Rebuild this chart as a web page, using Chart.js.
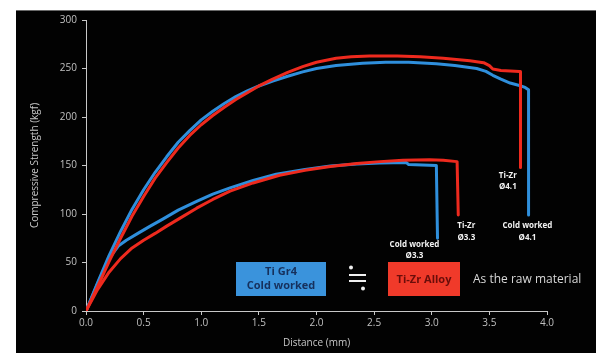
<!DOCTYPE html>
<html>
<head>
<meta charset="utf-8">
<script src="https://cdn.jsdelivr.net/npm/chart.js@4/dist/chart.umd.min.js"></script>
<style>
html,body{margin:0;padding:0;background:#fff;}
#wrap{position:relative;width:613px;height:353px;}
</style>
</head>
<body>
<div id="wrap"><canvas id="c" width="613" height="353"></canvas></div>
<script>
// ---- data (Distance mm, Compressive Strength kgf) ----
const cw41X = [0, 0.1, 0.2, 0.3, 0.4, 0.5, 0.6, 0.7, 0.8, 0.9, 1.0, 1.1, 1.2, 1.3, 1.4, 1.5, 1.62, 1.75, 1.88, 2.0, 2.17, 2.4, 2.6, 2.8, 3.04, 3.2, 3.39, 3.47, 3.53, 3.6, 3.68, 3.76, 3.81, 3.84, 3.84];
const cw41Y = [0, 29, 57, 82, 105, 125, 143, 159, 174, 186, 197, 206, 214, 221, 227, 232, 237, 242, 246.5, 250, 253, 255.5, 256.5, 256.5, 255, 253, 250, 247, 243, 239, 235, 232.5, 230.5, 228, 99];
const tz41X = [0, 0.1, 0.2, 0.3, 0.4, 0.5, 0.6, 0.7, 0.8, 0.9, 1.0, 1.1, 1.2, 1.3, 1.4, 1.5, 1.62, 1.75, 1.88, 2.0, 2.17, 2.3, 2.46, 2.7, 2.9, 3.1, 3.33, 3.45, 3.5, 3.53, 3.6, 3.76, 3.77, 3.77];
const tz41Y = [0, 25, 51, 75, 98, 118, 137, 153, 168, 181, 192, 201.5, 210, 218, 225, 232, 239, 246, 252, 256.5, 260.5, 262, 263, 263, 262, 260.5, 258, 256, 253, 249.5, 248, 247, 247, 148];
const cw33X = [0, 0.1, 0.2, 0.28, 0.35, 0.45, 0.55, 0.67, 0.8, 0.96, 1.1, 1.25, 1.45, 1.65, 1.9, 2.12, 2.35, 2.55, 2.78, 2.8, 3.04, 3.05];
const cw33Y = [0, 28, 54, 67, 73, 80, 87, 95, 104, 113, 120.5, 127, 134.5, 141, 146, 149.5, 151.5, 152.5, 153, 151, 150, 75];
const tz33X = [0, 0.1, 0.2, 0.3, 0.4, 0.5, 0.6, 0.7, 0.82, 0.96, 1.1, 1.25, 1.45, 1.68, 1.9, 2.12, 2.35, 2.55, 2.75, 2.98, 3.1, 3.22, 3.23];
const tz33Y = [0, 22, 40, 54, 65, 73, 80, 87.5, 96, 106, 115, 123.5, 132, 140, 145, 149, 152, 154, 155.5, 156, 155.5, 154, 99];
const xTicks = [0, 0.5, 1.0, 1.5, 2.0, 2.5, 3.0, 3.5, 4.0];
const yTicks = [0, 50, 100, 150, 200, 250, 300];

const BLUE = '#2f8fdc';
const RED = '#ee2a1e';

function pts(xs, ys){ return xs.map((x,i)=>({x:x, y:ys[i]})); }

const bgPlugin = {
  id:'bg',
  beforeDraw(chart){
    const ctx = chart.ctx;
    ctx.save();
    ctx.fillStyle = '#ffffff';
    ctx.fillRect(0,0,chart.width,chart.height);
    ctx.fillStyle = '#020202';
    ctx.fillRect(16,10,580,343);
    ctx.fillStyle = '#6a6a6a';
    ctx.fillRect(16,10,580,1);
    ctx.restore();
  }
};

// text annotations in data units
const notes = [
  {x:2.85, y:68, t:'Cold worked'}, {x:2.85, y:57, t:'Ø3.3'},
  {x:3.30, y:88, t:'Ti-Zr'}, {x:3.30, y:76, t:'Ø3.3'},
  {x:3.66, y:139, t:'Ti-Zr'}, {x:3.66, y:128, t:'Ø4.1'},
  {x:3.83, y:88, t:'Cold worked'}, {x:3.83, y:76, t:'Ø4.1'}
];

const annoPlugin = {
  id:'anno',
  afterDatasetsDraw(chart){
    const ctx = chart.ctx, xs = chart.scales.x, ys = chart.scales.y;
    ctx.save();
    ctx.fillStyle = '#f2f2f2';
    ctx.font = 'bold 8px "Open Sans", "DejaVu Sans", sans-serif';
    ctx.textAlign = 'center';
    ctx.textBaseline = 'middle';
    notes.forEach(n => ctx.fillText(n.t, xs.getPixelForValue(n.x), ys.getPixelForValue(n.y)));

    // legend boxes
    ctx.fillStyle = '#3a93dc';
    ctx.fillRect(236, 262, 90, 34);
    ctx.fillStyle = '#f03a2a';
    ctx.fillRect(388, 262, 72, 34);
    ctx.font = 'bold 11px "Open Sans", "DejaVu Sans", sans-serif';
    ctx.fillStyle = '#16305c';
    ctx.fillText('Ti Gr4', 281, 272);
    ctx.fillText('Cold worked', 281, 286);
    ctx.fillStyle = '#6a0d0a';
    ctx.fillText('Ti-Zr Alloy', 424, 280);
    // ≒ symbol
    ctx.fillStyle = '#f0f0f0';
    ctx.fillRect(349, 274, 17, 2);
    ctx.fillRect(349, 280, 17, 2);
    ctx.beginPath(); ctx.arc(351, 267.5, 2, 0, Math.PI*2); ctx.fill();
    ctx.beginPath(); ctx.arc(363, 288.5, 2, 0, Math.PI*2); ctx.fill();
    ctx.font = '12px "Open Sans", "DejaVu Sans", sans-serif';
    ctx.fillStyle = '#d8d8d8';
    ctx.textAlign = 'left';
    ctx.fillText('As the raw material', 473, 280);
    ctx.restore();
  }
};

const lineStyle = {pointRadius:0, borderWidth:3, tension:0, fill:false, borderJoinStyle:'round', borderCapStyle:'round'};

new Chart(document.getElementById('c'), {
  type:'line',
  data:{
    datasets:[
      Object.assign({label:'Ti-Zr Ø4.1', data:pts(tz41X,tz41Y), borderColor:RED}, lineStyle),
      Object.assign({label:'Ti-Zr Ø3.3', data:pts(tz33X,tz33Y), borderColor:RED}, lineStyle),
      Object.assign({label:'Cold worked Ø4.1', data:pts(cw41X,cw41Y), borderColor:BLUE}, lineStyle),
      Object.assign({label:'Cold worked Ø3.3', data:pts(cw33X,cw33Y), borderColor:BLUE}, lineStyle)
    ]
  },
  options:{
    responsive:false,
    animation:false,
    layout:{padding:{left:16, top:20, right:66, bottom:0}},
    plugins:{legend:{display:false}, tooltip:{enabled:false}},
    scales:{
      x:{
        type:'linear', min:0, max:4,
        afterFit(s){ s.height = 42; },
        afterBuildTicks(s){ s.ticks = xTicks.map(v=>({value:v})); },
        ticks:{color:'#c0c0c0', font:{size:10, family:'"Open Sans", sans-serif'}, padding:2, maxRotation:0,
               callback:(v)=>Number(v).toFixed(1)},
        grid:{display:true, drawOnChartArea:false, drawTicks:true, tickLength:4, color:'#c8c8c8', lineWidth:1},
        border:{display:true, color:'#c8c8c8', width:1},
        title:{display:true, text:'Distance (mm)', color:'#c8c8c8', font:{size:10, family:'"Open Sans", sans-serif'}, padding:{top:0,bottom:4}}
      },
      y:{
        type:'linear', min:0, max:300,
        afterFit(s){ s.width = 70; },
        afterBuildTicks(s){ s.ticks = yTicks.map(v=>({value:v})); },
        ticks:{color:'#c0c0c0', font:{size:10, family:'"Open Sans", sans-serif'}, padding:5},
        grid:{display:true, drawOnChartArea:false, drawTicks:true, tickLength:4, color:'#c8c8c8', lineWidth:1},
        border:{display:true, color:'#c8c8c8', width:1},
        title:{display:true, text:'Compressive Strength (kgf)', color:'#c8c8c8', font:{size:10, family:'"Open Sans", sans-serif'}, padding:{top:13,bottom:0}}
      }
    }
  },
  plugins:[bgPlugin, annoPlugin]
});
</script>
</body>
</html>
